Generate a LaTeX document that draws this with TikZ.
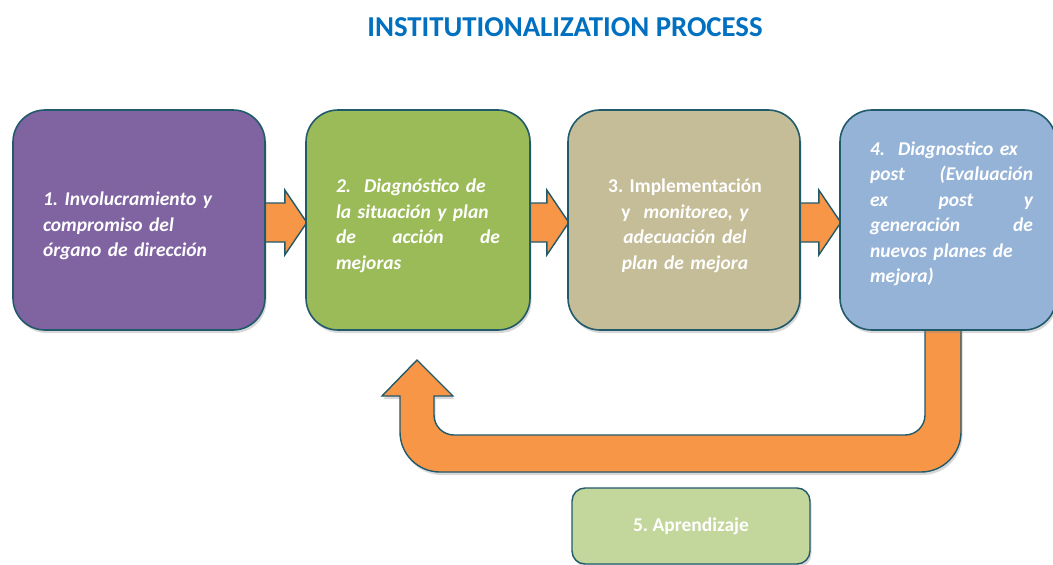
\documentclass[tikz,border=0pt]{standalone}
\usepackage{fontspec}
\setmainfont{Carlito}
\usetikzlibrary{calc,shadows}
\definecolor{edge}{HTML}{215A6B}
\definecolor{cA}{HTML}{8064A2}
\definecolor{cB}{HTML}{9BBB59}
\definecolor{cC}{HTML}{C4BD97}
\definecolor{cD}{HTML}{95B3D7}
\definecolor{cE}{HTML}{C3D69B}
\definecolor{orng}{HTML}{F79646}
\definecolor{ttl}{HTML}{0070C0}
\newcommand\myarrow[2]{%
  \draw[blockarrow] ($(#1.east)+(-1,-17)$) -- ($(#2.west)+(-21,-17)$) -- ($(#2.west)+(-21,-30)$)
    -- ($(#2.west)+(1,2.5)$) -- ($(#2.west)+(-21,35)$) -- ($(#2.west)+(-21,22)$) -- ($(#1.east)+(-1,22)$) -- cycle;}
\newcommand\jl[1]{\leavevmode\hbox to \hsize{#1}}
\frenchspacing
\begin{document}
\begin{tikzpicture}[x=1pt,y=-1pt,
  stepbox/.style={draw=edge, line width=1.6pt, rounded corners=32pt, inner sep=0pt,
    minimum height=220pt,
    drop shadow={shadow xshift=1.5pt, shadow yshift=-3pt, opacity=0.3}},
  steptext/.style={inner sep=0pt, text=white, font=\fontsize{19.5}{25.5}\selectfont\bfseries\itshape},
  blockarrow/.style={draw=edge, line width=1.4pt, fill=orng, line join=miter}]
\useasboundingbox (0,0) rectangle (1053,565);
\fill[white] (0,0) rectangle (1053,565);

\node[font=\fontsize{28.8}{32}\selectfont\bfseries, text=ttl] (title) at (565,27) {INSTITUTIONALIZATION PROCESS};

% invisible anchors for the block arrows (boxes drawn after)
\path (139,220) node[minimum width=252pt, minimum height=220pt, inner sep=0pt] (p1) {};
\path (418,220) node[minimum width=224pt, minimum height=220pt, inner sep=0pt] (p2) {};
\path (684,220) node[minimum width=232pt, minimum height=220pt, inner sep=0pt] (p3) {};
\path (948,220) node[minimum width=216pt, minimum height=220pt, inner sep=0pt] (p4) {};

\myarrow{p1}{p2}
\myarrow{p2}{p3}
\myarrow{p3}{p4}

% feedback U arrow
\draw[blockarrow, drop shadow={shadow xshift=1.5pt, shadow yshift=-3pt, opacity=0.3}]
  (961,322) -- (961,432) .. controls (961,454.1) and (943.1,472) .. (921,472)
  -- (440,472) .. controls (417.9,472) and (400,454.1) .. (400,432)
  -- (400,396) -- (382,396) -- (417,360) -- (453,396) -- (434,396)
  -- (434,415) .. controls (434,426.05) and (442.95,435) .. (454,435)
  -- (905,435) .. controls (916.05,435) and (925,426.05) .. (925,415)
  -- (925,322) -- cycle;

\node[stepbox, fill=cA, minimum width=252pt] (b1) at (139,220) {};
\node[stepbox, fill=cB, minimum width=224pt] (b2) at (418,220) {};
\node[stepbox, fill=cC, minimum width=232pt] (b3) at (684,220) {};
\node[stepbox, fill=cD, minimum width=216pt] (b4) at (948,220) {};

\node[steptext, text width=192pt, align=left] (b1t) at (139,226)
  {1. Involucramiento y\\ compromiso del\\ órgano de dirección};
\node[steptext, text width=164pt, align=left] (b2t) at (418,226)
  {2.\ \ Diagnóstico de\\ la situación y plan\\ \jl{de\hfill acción\hfill de}\\ mejoras};
\node[steptext, text width=190pt, align=center] (b3t) at (685,226)
  {\upshape 3. Implementación\\ \upshape y\ \ \itshape monitoreo, y\\ adecuación del\\ plan de mejora};
\node[steptext, text width=163pt, align=left] (b4t) at (951.5,214)
  {4.\ \ Diagnostico ex\\ \jl{post\hfill (Evaluación}\\ \jl{ex\hfill post\hfill y}\\
   \jl{generación\hfill de}\\ nuevos planes de\\ mejora)};

\node[stepbox, fill=cE, rounded corners=13pt, minimum width=238pt, minimum height=76pt,
  text=white, font=\fontsize{19.5}{22}\selectfont\bfseries, line width=1.4pt] (b5) at (691,526) {5. Aprendizaje};
\end{tikzpicture}
\end{document}
